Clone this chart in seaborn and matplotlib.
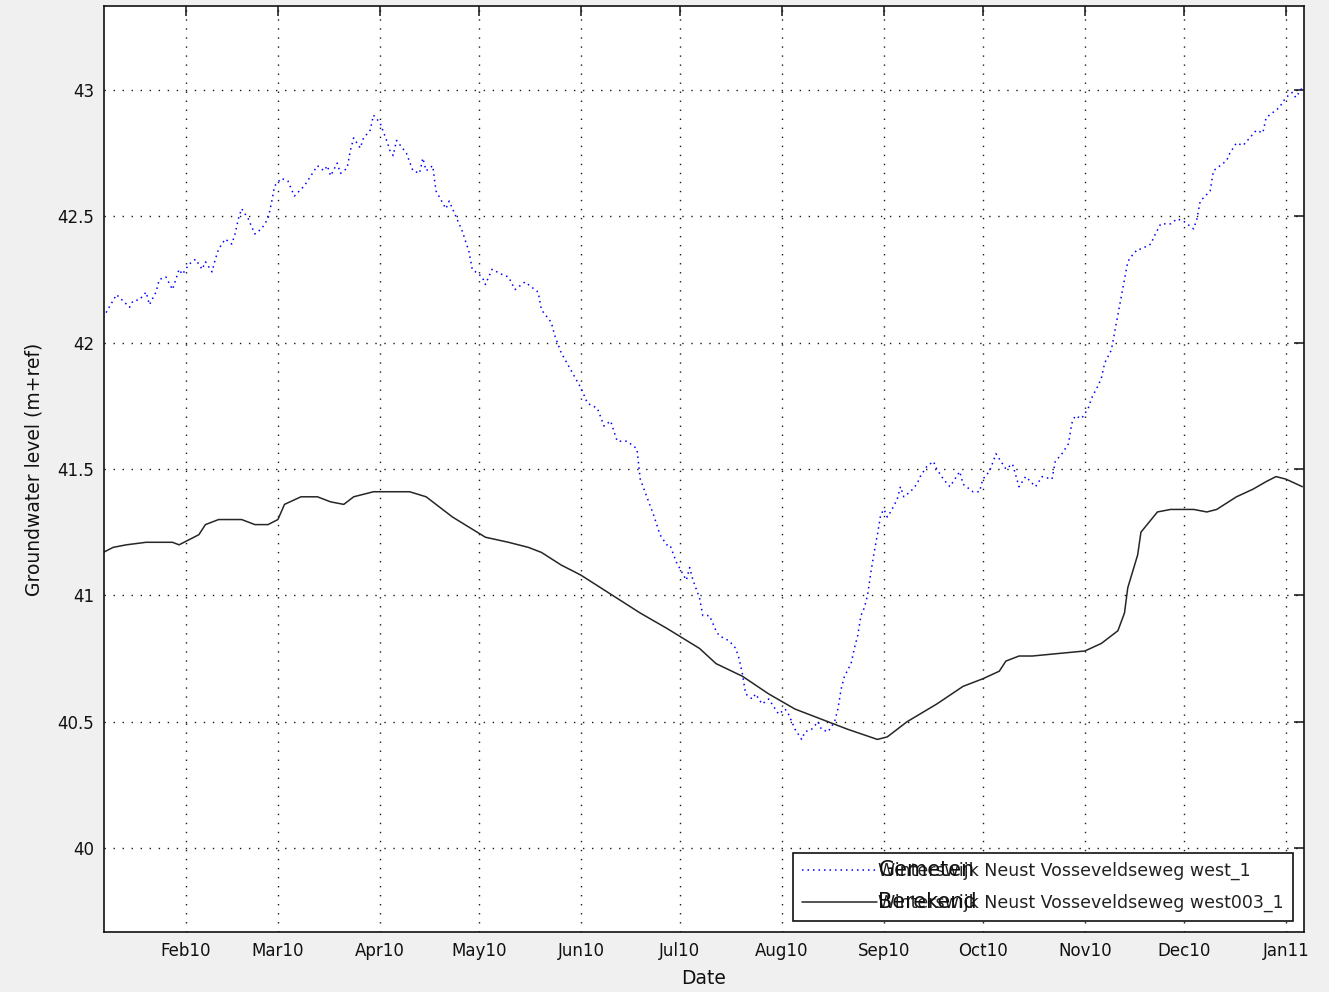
import numpy as np
import pandas as pd
import matplotlib
matplotlib.use("Agg")
import matplotlib.pyplot as plt
import seaborn as sns

# ---------------- data ----------------
start_date = "2010-01-01"

# measured groundwater level (blue, dotted) : day offset from start_date, level (m+ref)
blue_day = [6, 10, 12, 14, 15, 17, 19, 20, 22, 23,
            25, 27, 29, 30, 32, 34, 36, 37, 39, 40,
            41, 43, 45, 46, 47, 48, 50, 52, 54, 56,
            57, 58, 60, 62, 64, 67, 69, 71, 73, 74,
            75, 77, 78, 80, 81, 82, 84, 85, 87, 88,
            90, 92, 93, 94, 95, 98, 100, 102, 103, 104,
            106, 107, 110, 111, 113, 115, 117, 118, 121, 122,
            124, 127, 129, 131, 134, 137, 138, 139, 142, 143,
            145, 148, 151, 153, 156, 158, 160, 162, 165, 168,
            169, 171, 173, 175, 177, 178, 180, 183, 184, 185,
            187, 188, 190, 192, 193, 196, 198, 199, 200, 201,
            203, 204, 206, 208, 209, 211, 213, 214, 216, 218,
            219, 221, 223, 224, 226, 228, 229, 230, 231, 233,
            234, 235, 236, 237, 238, 239, 240, 241, 242, 243,
            244, 245, 247, 248, 249, 251, 253, 254, 256, 258,
            259, 261, 263, 265, 266, 267, 270, 272, 273, 275,
            277, 278, 280, 282, 284, 286, 289, 291, 294, 295,
            297, 299, 300, 301, 303, 305, 306, 308, 309, 310,
            312, 313, 314, 315, 316, 317, 318, 320, 321, 324,
            325, 327, 330, 332, 334, 335, 337, 338, 339, 342,
            343, 345, 347, 348, 350, 352, 354, 356, 358, 359,
            361, 363, 365, 367, 368, 370]
blue_level = [42.10, 42.19, 42.165, 42.14, 42.165, 42.17, 42.20, 42.15, 42.20, 42.25,
              42.26, 42.21, 42.29, 42.27, 42.31, 42.33, 42.29, 42.32, 42.28, 42.33,
              42.37, 42.41, 42.39, 42.43, 42.49, 42.53, 42.49, 42.43, 42.45, 42.49,
              42.55, 42.62, 42.65, 42.64, 42.58, 42.62, 42.66, 42.70, 42.68, 42.70,
              42.66, 42.71, 42.67, 42.69, 42.76, 42.81, 42.77, 42.81, 42.84, 42.90,
              42.87, 42.80, 42.76, 42.74, 42.80, 42.75, 42.68, 42.67, 42.73, 42.68,
              42.70, 42.60, 42.53, 42.56, 42.50, 42.44, 42.36, 42.29, 42.26, 42.23,
              42.29, 42.27, 42.26, 42.21, 42.24, 42.21, 42.20, 42.13, 42.08, 42.03,
              41.96, 41.89, 41.82, 41.76, 41.74, 41.67, 41.69, 41.61, 41.61, 41.58,
              41.46, 41.39, 41.32, 41.24, 41.20, 41.20, 41.13, 41.06, 41.11, 41.06,
              40.99, 40.92, 40.92, 40.86, 40.84, 40.82, 40.79, 40.75, 40.69, 40.61,
              40.59, 40.61, 40.57, 40.59, 40.57, 40.53, 40.55, 40.53, 40.47, 40.43,
              40.46, 40.47, 40.50, 40.47, 40.46, 40.50, 40.55, 40.63, 40.68, 40.73,
              40.79, 40.84, 40.92, 40.95, 41.00, 41.09, 41.17, 41.24, 41.32, 41.34,
              41.31, 41.33, 41.38, 41.43, 41.39, 41.41, 41.44, 41.47, 41.51, 41.53,
              41.50, 41.46, 41.43, 41.47, 41.49, 41.44, 41.41, 41.41, 41.46, 41.49,
              41.56, 41.54, 41.50, 41.52, 41.43, 41.47, 41.43, 41.47, 41.46, 41.53,
              41.56, 41.60, 41.68, 41.71, 41.70, 41.74, 41.78, 41.83, 41.86, 41.92,
              41.97, 42.04, 42.11, 42.18, 42.25, 42.32, 42.34, 42.37, 42.37, 42.39,
              42.42, 42.47, 42.47, 42.49, 42.48, 42.47, 42.45, 42.49, 42.56, 42.60,
              42.68, 42.70, 42.72, 42.75, 42.79, 42.78, 42.81, 42.84, 42.83, 42.89,
              42.91, 42.93, 42.97, 42.99, 42.97, 43.01]

# computed groundwater level (black, solid)
black_day = [6, 9, 13, 19, 27, 29, 32, 35, 37, 41,
             48, 52, 56, 59, 61, 66, 71, 75, 79, 82,
             88, 93, 99, 104, 108, 112, 117, 122, 129, 135,
             139, 145, 151, 157, 163, 169, 177, 182, 187, 192,
             200, 208, 216, 224, 232, 241, 244, 250, 259, 267,
             273, 278, 280, 284, 288, 296, 304, 309, 314, 316,
             317, 320, 321, 326, 330, 337, 341, 344, 350, 355,
             359, 362, 365, 370]
black_level = [41.17, 41.19, 41.20, 41.21, 41.21, 41.20, 41.22, 41.24, 41.28, 41.30,
               41.30, 41.28, 41.28, 41.30, 41.36, 41.39, 41.39, 41.37, 41.36, 41.39,
               41.41, 41.41, 41.41, 41.39, 41.35, 41.31, 41.27, 41.23, 41.21, 41.19,
               41.17, 41.12, 41.08, 41.03, 40.98, 40.93, 40.87, 40.83, 40.79, 40.73,
               40.68, 40.61, 40.55, 40.51, 40.47, 40.43, 40.44, 40.50, 40.57, 40.64,
               40.67, 40.70, 40.74, 40.76, 40.76, 40.77, 40.78, 40.81, 40.86, 40.93,
               41.03, 41.16, 41.25, 41.33, 41.34, 41.34, 41.33, 41.34, 41.39, 41.42,
               41.45, 41.47, 41.46, 41.43]

label_measured_long = "Winterswijk Neust Vosseveldseweg west_1"
label_computed_long = "Winterswijk Neust Vosseveldseweg west003_1"
label_measured = "Gemeten"
label_computed = "Berekend"

x_label = "Date"
y_label = "Groundwater level (m+ref)"

y_ticks = [40, 40.5, 41, 41.5, 42, 42.5, 43]
y_tick_labels = ["40", "40.5", "41", "41.5", "42", "42.5", "43"]
x_tick_dates = ["2010-02-01", "2010-03-01", "2010-04-01", "2010-05-01", "2010-06-01",
                "2010-07-01", "2010-08-01", "2010-09-01", "2010-10-01", "2010-11-01",
                "2010-12-01", "2011-01-01"]
x_tick_labels = ["Feb10", "Mar10", "Apr10", "May10", "Jun10", "Jul10", "Aug10",
                 "Sep10", "Oct10", "Nov10", "Dec10", "Jan11"]
x_range = ["2010-01-07 05:00", "2011-01-06 12:00"]
y_range = [39.668, 43.332]

# ---------------- frames ----------------
t0 = pd.Timestamp(start_date)
df_meas = pd.DataFrame({"date": t0 + pd.to_timedelta(blue_day, unit="D"),
                        "level": blue_level})
df_comp = pd.DataFrame({"date": t0 + pd.to_timedelta(black_day, unit="D"),
                        "level": black_level})

# ---------------- style ----------------
sns.set_style("white")
plt.rcParams["font.family"] = ["DejaVu Sans"]

W, H = 1329, 992
fig = plt.figure(figsize=(W / 100, H / 100), dpi=100, facecolor="#f0f0f0")
ax = fig.add_axes([104 / W, 60 / H, 1200 / W, 926 / H])
ax.set_facecolor("white")

sns.lineplot(data=df_meas, x="date", y="level", ax=ax, color="#0000ff",
             linewidth=1.1, linestyle=(0, (1, 2.6)), legend=False, sort=False,
             estimator=None)
sns.lineplot(data=df_comp, x="date", y="level", ax=ax, color="#262626",
             linewidth=1.1, legend=False, sort=False, estimator=None)

ax.set_xlim(pd.Timestamp(x_range[0]), pd.Timestamp(x_range[1]))
ax.set_ylim(*y_range)
ax.set_xticks(pd.to_datetime(x_tick_dates))
ax.set_xticklabels(x_tick_labels)
ax.set_yticks(y_ticks)
ax.set_yticklabels(y_tick_labels)

ax.grid(True, color="#1a1a1a", linestyle=(0, (1, 5.5)), linewidth=1.0)
for s in ax.spines.values():
    s.set_visible(True)
    s.set_color("#111111")
    s.set_linewidth(1.2)

ax.tick_params(axis="both", which="major", direction="in", length=7, width=1.1,
               color="#111111", top=True, right=True, labelsize=12,
               labelcolor="#111111", pad=7)

ax.set_xlabel(x_label, fontsize=13.5, color="#111111", labelpad=7)
ax.set_ylabel(y_label, fontsize=13.5, color="#111111", labelpad=10)

handles = ax.get_lines()[:2]
leg = ax.legend(handles, [label_measured_long, label_computed_long],
                loc="lower right", fontsize=12.5, frameon=True, fancybox=False,
                edgecolor="#111111", facecolor="white", framealpha=1,
                handlelength=4.3, handletextpad=0.1, borderpad=0.5,
                labelspacing=0.8, borderaxespad=0.65)
leg.get_frame().set_linewidth(1.2)
for t in leg.get_texts():
    t.set_color("#222222")

fig.canvas.draw()
renderer = fig.canvas.get_renderer()
for t, short in zip(leg.get_texts(), [label_measured, label_computed]):
    bb = t.get_window_extent(renderer)
    descent = 0.236 * 12.5 * 100 / 72
    fig.text(bb.x0 / W, (bb.y0 + descent) / H, short, fontsize=15,
             color="#111111", ha="left", va="baseline", zorder=10)

fig.savefig("out.png", dpi=100, facecolor=fig.get_facecolor())
